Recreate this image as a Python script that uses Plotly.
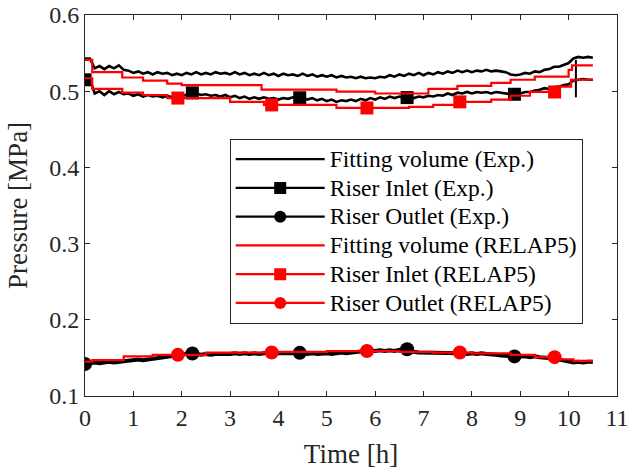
import numpy as np
import plotly.graph_objects as go

# ---------------- data ----------------
# experimental series sampled every 0.1 h from 0 to 10.5 h
t_exp = np.round(np.arange(0, 106) * 0.1, 2)

fitting_exp = [
    0.543, 0.543, 0.530, 0.533, 0.529, 0.533, 0.530, 0.534, 0.528, 0.527,
    0.524, 0.526, 0.523, 0.525, 0.522, 0.525, 0.523, 0.524, 0.521, 0.523,
    0.521, 0.524, 0.522, 0.525, 0.522, 0.524, 0.522, 0.525, 0.523, 0.524,
    0.522, 0.525, 0.522, 0.524, 0.521, 0.523, 0.521, 0.524, 0.521, 0.523,
    0.520, 0.523, 0.521, 0.522, 0.520, 0.523, 0.520, 0.522, 0.519, 0.521,
    0.519, 0.521, 0.518, 0.520, 0.518, 0.519, 0.517, 0.519, 0.517, 0.518,
    0.517, 0.519, 0.518, 0.521, 0.519, 0.522, 0.520, 0.523, 0.521, 0.524,
    0.521, 0.524, 0.522, 0.525, 0.523, 0.526, 0.524, 0.527, 0.525, 0.527,
    0.525, 0.527, 0.526, 0.528, 0.526, 0.527, 0.526, 0.525, 0.522, 0.521,
    0.522, 0.524, 0.523, 0.526, 0.525, 0.528, 0.529, 0.532, 0.532, 0.535,
    0.537, 0.543, 0.545, 0.544, 0.545, 0.544,
]

inlet_exp = [
    0.515, 0.516, 0.497, 0.500, 0.495, 0.500, 0.496, 0.499, 0.496, 0.497,
    0.494, 0.496, 0.493, 0.495, 0.493, 0.494, 0.492, 0.494, 0.492, 0.494,
    0.493, 0.496, 0.498, 0.497, 0.495, 0.496, 0.494, 0.495, 0.493, 0.495,
    0.492, 0.494, 0.491, 0.493, 0.490, 0.492, 0.490, 0.492, 0.490, 0.491,
    0.489, 0.491, 0.490, 0.492, 0.491, 0.492, 0.489, 0.491, 0.488, 0.490,
    0.487, 0.489, 0.486, 0.488, 0.487, 0.489, 0.487, 0.490, 0.488, 0.491,
    0.489, 0.492, 0.490, 0.493, 0.491, 0.493, 0.491, 0.492, 0.491, 0.493,
    0.492, 0.494, 0.493, 0.495, 0.494, 0.497, 0.495, 0.498, 0.497, 0.499,
    0.497, 0.499, 0.498, 0.499, 0.497, 0.499, 0.498, 0.497, 0.496, 0.496,
    0.497, 0.499, 0.499, 0.501, 0.502, 0.504, 0.503, 0.505, 0.506, 0.508,
    0.509, 0.514, 0.515, 0.516, 0.515, 0.515,
]
# short pressure spike in the riser-inlet record
spike_t = [10.15, 10.15]
spike_p = [0.492, 0.541]

outlet_exp = [
    0.142, 0.143, 0.144, 0.143, 0.144, 0.145, 0.144, 0.145, 0.146, 0.147,
    0.147, 0.148, 0.147, 0.148, 0.149, 0.149, 0.150, 0.151, 0.153, 0.153,
    0.154, 0.155, 0.156, 0.155, 0.154, 0.155, 0.154, 0.155, 0.155, 0.154,
    0.155, 0.156, 0.155, 0.156, 0.155, 0.156, 0.155, 0.156, 0.157, 0.156,
    0.156, 0.157, 0.156, 0.157, 0.157, 0.156, 0.155, 0.156, 0.155, 0.156,
    0.156, 0.155, 0.156, 0.157, 0.156, 0.157, 0.158, 0.158, 0.159, 0.160,
    0.159, 0.160, 0.159, 0.160, 0.159, 0.160, 0.162, 0.161, 0.158, 0.157,
    0.157, 0.156, 0.157, 0.156, 0.157, 0.156, 0.156, 0.157, 0.156, 0.155,
    0.156, 0.155, 0.156, 0.155, 0.155, 0.154, 0.153, 0.153, 0.152, 0.152,
    0.153, 0.152, 0.151, 0.152, 0.151, 0.151, 0.150, 0.149, 0.148, 0.147,
    0.146, 0.144, 0.145, 0.144, 0.145, 0.145,
]

# RELAP5 results (piece-wise constant output)
fit_r5_t = [0, 0.15, 0.77, 1.2, 1.7, 2.0, 3.65, 5.2, 6.0, 7.1, 7.7, 8.4, 8.8, 9.3, 10.0, 10.07, 10.5]
fit_r5_p = [0.541, 0.525, 0.518, 0.514, 0.510, 0.508, 0.502, 0.4995, 0.497, 0.503, 0.507, 0.511,
            0.515, 0.519, 0.528, 0.534, 0.534]

inl_r5_t = [0, 0.15, 0.77, 1.2, 1.7, 3.0, 3.7, 5.2, 6.7, 7.2, 7.7, 8.4, 8.8, 9.2, 9.8, 10.05, 10.5]
inl_r5_p = [0.517, 0.503, 0.498, 0.495, 0.491, 0.486, 0.482, 0.478, 0.4795, 0.482, 0.486, 0.489,
            0.494, 0.499, 0.506, 0.515, 0.515]

out_r5_t = [0, 0.15, 0.8, 1.4, 2.5, 4.0, 5.0, 6.5, 7.2, 8.0, 8.8, 9.3, 9.8, 10.1, 10.5]
out_r5_p = [0.145, 0.147, 0.152, 0.154, 0.157, 0.158, 0.159, 0.158, 0.157, 0.156, 0.154, 0.151,
            0.148, 0.146, 0.146]

# marker positions (h)
exp_marker_t = [0, 2.22, 4.44, 6.66, 8.88]
r5_marker_t = [1.92, 3.86, 5.83, 7.75, 9.71]

x_ticks = list(range(0, 12))
y_ticks = [0.1, 0.2, 0.3, 0.4, 0.5, 0.6]

legend_names = [
    "Fitting volume (Exp.)",
    "Riser Inlet (Exp.)",
    "Riser Outlet (Exp.)",
    "Fitting volume (RELAP5)",
    "Riser Inlet (RELAP5)",
    "Riser Outlet (RELAP5)",
]

# ---------------- helpers ----------------
def step_value(ts, ps, tq):
    idx = np.searchsorted(ts, tq, side="right") - 1
    return [ps[i] for i in idx]

BLACK = "#000000"
RED = "#ff0000"
FONT = "Liberation Serif"
TXT = "#262626"

fig = go.Figure()

def add_series(t, p, color, symbol, mt, mp, shape="linear", lw=2.2):
    fig.add_trace(go.Scatter(x=t, y=p, mode="lines", line=dict(color=color, width=lw, shape=shape),
                             showlegend=False, hoverinfo="skip"))
    if symbol is not None:
        fig.add_trace(go.Scatter(x=mt, y=mp, mode="markers",
                                 marker=dict(color=color, symbol=symbol, size=13 if symbol == "square" else 14),
                                 showlegend=False, hoverinfo="skip"))

# experiment
add_series(t_exp, fitting_exp, BLACK, None, None, None, lw=2.6)
add_series(t_exp, inlet_exp, BLACK, "square", exp_marker_t,
           list(np.interp(exp_marker_t, t_exp, inlet_exp)), lw=2.6)
fig.add_trace(go.Scatter(x=spike_t, y=spike_p, mode="lines", line=dict(color=BLACK, width=2),
                         showlegend=False, hoverinfo="skip"))
add_series(t_exp, outlet_exp, BLACK, "circle", exp_marker_t,
           list(np.interp(exp_marker_t, t_exp, outlet_exp)), lw=4)
# RELAP5
add_series(fit_r5_t, fit_r5_p, RED, None, None, None, shape="hv")
add_series(inl_r5_t, inl_r5_p, RED, "square", r5_marker_t,
           step_value(inl_r5_t, inl_r5_p, r5_marker_t), shape="hv")
add_series(out_r5_t, out_r5_p, RED, "circle", r5_marker_t,
           step_value(out_r5_t, out_r5_p, r5_marker_t), shape="hv")

# legend entries
legend_style = [(BLACK, None), (BLACK, "square"), (BLACK, "circle"),
                (RED, None), (RED, "square"), (RED, "circle")]
for name, (color, sym) in zip(legend_names, legend_style):
    fig.add_trace(go.Scatter(
        x=[None], y=[None],
        name=f'<span style="font-size:23.5px">{name}</span>',
        mode="lines+markers" if sym else "lines",
        line=dict(color=color, width=2.2),
        marker=dict(color=color, symbol=sym or "circle", size=12),
    ))

axis_common = dict(
    showline=True, linecolor=TXT, linewidth=1, mirror="ticks",
    ticks="inside", ticklen=5, tickcolor=TXT, tickwidth=1,
    showgrid=False, zeroline=False, automargin=False,
    tickfont=dict(family=FONT, size=24, color=TXT),
)
fig.update_xaxes(range=[0, 11], tickvals=x_ticks, ticktext=[str(v) for v in x_ticks],
                 title=dict(text="Time [h]", font=dict(family=FONT, size=27, color=TXT), standoff=14),
                 **axis_common)
fig.update_yaxes(range=[0.1, 0.6], tickvals=y_ticks, ticktext=[f"{v:.1f}" for v in y_ticks],
                 title=dict(text="Pressure [MPa]", font=dict(family=FONT, size=27, color=TXT), standoff=13),
                 **axis_common)

fig.update_layout(
    width=629, height=470,
    margin=dict(l=85, r=12, t=15, b=74),
    paper_bgcolor="white", plot_bgcolor="white",
    font=dict(family=FONT, size=23, color=TXT),
    legend=dict(
        x=0.272, y=0.675, xanchor="left", yanchor="top",
        bgcolor="white", bordercolor=TXT, borderwidth=1,
        font=dict(family=FONT, size=19.8, color="#000000"),
        itemwidth=89, tracegroupgap=0,
    ),
    showlegend=True,
)

fig.write_html("out.html")
